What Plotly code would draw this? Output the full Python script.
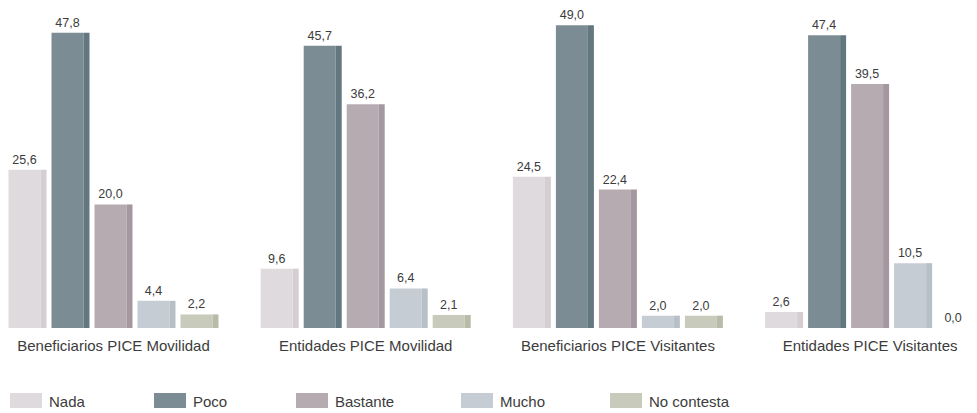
import plotly.graph_objects as go

# ---- data ----
categories = ["Beneficiarios PICE Movilidad", "Entidades PICE Movilidad",
              "Beneficiarios PICE Visitantes", "Entidades PICE Visitantes"]
series_names = ["Nada", "Poco", "Bastante", "Mucho", "No contesta"]
nada = [25.6, 9.6, 24.5, 2.6]
poco = [47.8, 45.7, 49.0, 47.4]
bastante = [20.0, 36.2, 22.4, 39.5]
mucho = [4.4, 6.4, 2.0, 10.5]
no_contesta = [2.2, 2.1, 2.0, 0.0]
series_values = [nada, poco, bastante, mucho, no_contesta]

# ---- styles ----
face_colors = ["#dfdadd", "#7b8c94", "#b7abb2", "#c5ccd3", "#c8cbbc"]
edge_colors = ["#d4ced2", "#637780", "#a5979f", "#b8c0c7", "#b7bca9"]
FONT = "Liberation Sans, Arial, sans-serif"
TXT = "#3c3c3c"

# page body has an 8px margin, so the figure is 8px smaller than the window
W, H = 969, 405
MB = 85
plot_h = H - MB
U = 252.2                 # pixels per category
c0 = 105.5                # pixel position of first category centre
pitch, face_w, edge_w = 43, 32, 6
half_group = (4 * pitch + face_w + edge_w) / 2

fig = go.Figure()
for s, (name, vals) in enumerate(zip(series_names, series_values)):
    left = (-half_group + s * pitch) / U
    fig.add_trace(go.Bar(
        x=categories, y=vals, name=name,
        width=face_w / U, offset=left,
        marker=dict(color=face_colors[s], line=dict(width=0)),
        texttemplate="%{y:.1f}", textposition="outside",
        textfont=dict(family=FONT, size=12.5, color=TXT),
        cliponaxis=False, showlegend=False, hoverinfo="x+y+name",
    ))
    fig.add_trace(go.Bar(
        x=categories, y=vals, name=name,
        width=edge_w / U, offset=left + face_w / U,
        marker=dict(color=edge_colors[s], line=dict(width=0)),
        showlegend=False, hoverinfo="skip",
    ))

# ---- manual legend ----
legend_px = [2, 146, 288, 453, 602]
sw_top, sw_bot, lg_mid = 385, 400, 393
def py(p):
    return (plot_h - p) / plot_h
for s, name in enumerate(series_names):
    x0 = legend_px[s]
    fig.add_shape(type="rect", xref="paper", yref="paper",
                  x0=x0 / W, x1=(x0 + 32) / W, y0=py(sw_bot), y1=py(sw_top),
                  fillcolor=face_colors[s], line=dict(width=0))
    fig.add_annotation(xref="paper", yref="paper", x=(x0 + 37) / W, y=py(lg_mid),
                       text=name, showarrow=False, xanchor="left", yanchor="middle",
                       font=dict(family=FONT, size=15, color=TXT))

fig.update_layout(
    width=W, height=H,
    margin=dict(l=0, r=0, t=0, b=MB, pad=0),
    barmode="overlay",
    separators=",.",
    plot_bgcolor="white", paper_bgcolor="white",
    xaxis=dict(range=[-c0 / U, (W - c0) / U], showgrid=False, zeroline=False,
               showline=False, ticks="", ticklabelstandoff=7,
               tickfont=dict(family=FONT, size=15, color=TXT)),
    yaxis=dict(range=[0, 51.8], visible=False, showgrid=False, zeroline=False),
)

fig.write_html("out.html")
